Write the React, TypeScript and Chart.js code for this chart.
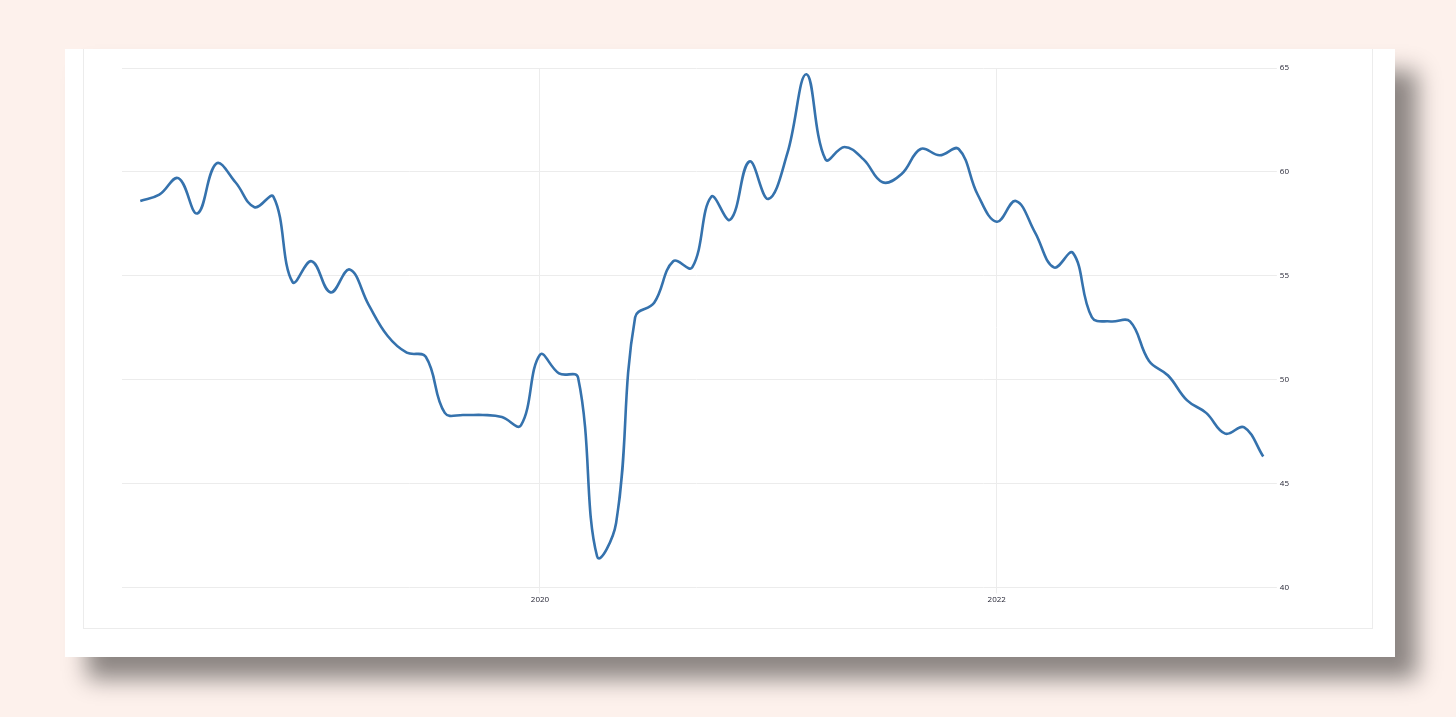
import React, { useEffect, useRef } from "react";
import { Chart, registerables } from "chart.js";

Chart.register(...registerables);

// Monthly, April 2018 .. March 2023
const startYear = 2018;
const startMonth = 4;
const values: number[] = [
  58.6, 58.9, 59.7, 58.0, 60.4, 59.5, 58.3, 58.8, 54.7, // Apr-Dec 2018
  55.7, 54.2, 55.3, 53.6, 52.1, 51.3, 51.1, 48.4, 48.3, 48.3, 48.2, 47.8, // 2019
  51.2, 50.3, 50.1, 41.5, 43.1, 53.0, 53.7, 55.7, 55.4, 58.8, 57.7, 60.5, // 2020
  58.7, 60.9, 64.7, 60.6, 61.2, 60.6, 59.5, 59.9, 61.1, 60.8, 61.1, 58.9, // 2021
  57.6, 58.6, 57.1, 55.4, 56.1, 53.0, 52.8, 52.8, 50.9, 50.2, 49.0, 48.4, // 2022
  47.4, 47.7, 46.3, // Jan-Mar 2023
];
const xTickYears: number[] = [2020, 2022];
const yTicks: number[] = [40, 45, 50, 55, 60, 65];

function monthPos(i: number): number {
  const m = startMonth - 1 + i;
  return startYear + Math.floor(m / 12) + (m % 12) / 12;
}

export default function App() {
  const ref = useRef<HTMLCanvasElement | null>(null);
  useEffect(() => {
    if (!ref.current) return;
    const points = values.map((v, i) => ({ x: monthPos(i), y: v }));
    const chart = new Chart(ref.current, {
      type: "line",
      data: {
        datasets: [
          {
            data: points,
            borderColor: "#3572ad",
            borderWidth: 2.6,
            pointRadius: 0,
            tension: 0.4,
            fill: false,
          },
        ],
      },
      options: {
        animation: false,
        responsive: false,
        maintainAspectRatio: false,
        layout: { padding: { left: 38, top: 18, right: 79, bottom: 21 } },
        plugins: { legend: { display: false }, tooltip: { enabled: false } },
        scales: {
          x: {
            type: "linear",
            min: 2018.17,
            max: 2023.2,
            afterBuildTicks: (scale: any) => {
              scale.ticks = xTickYears.map((v) => ({ value: v }));
            },
            ticks: {
              autoSkip: false,
              maxRotation: 0,
              color: "#1e1e2e",
              font: { family: "Open Sans", size: 8 },
              padding: 2,
              callback: (v: any) => String(v),
            },
            grid: { color: "#ececec", tickLength: 6, lineWidth: 1 },
            border: { display: false },
          },
          y: {
            position: "right",
            min: 40,
            max: 65,
            afterBuildTicks: (scale: any) => {
              scale.ticks = yTicks.map((v) => ({ value: v }));
            },
            ticks: {
              color: "#1e1e2e",
              font: { family: "Open Sans", size: 8 },
              padding: 3,
            },
            grid: { color: "#ececec", tickLength: 6, lineWidth: 1 },
            border: { display: false },
          },
        },
      },
    });
    return () => chart.destroy();
  }, []);

  return (
    <div
      style={{
        position: "fixed",
        left: 0,
        top: 0,
        width: 1456,
        height: 717,
        background: "#fdf1ec",
        overflow: "hidden",
      }}
    >
      <div
        style={{
          position: "absolute",
          left: 65,
          top: 49,
          width: 1330,
          height: 608,
          background: "#ffffff",
          boxShadow: "22px 22px 22px rgba(0,0,0,0.45)",
        }}
      >
        <div
          style={{
            position: "absolute",
            left: 18,
            top: 0,
            width: 1288,
            height: 579,
            borderLeft: "1px solid #ececec",
            borderRight: "1px solid #ececec",
            borderBottom: "1px solid #ececec",
          }}
        />
        <canvas
          ref={ref}
          width={1287}
          height={578}
          style={{ position: "absolute", left: 19, top: 1, width: 1287, height: 578 }}
        />
      </div>
    </div>
  );
}
